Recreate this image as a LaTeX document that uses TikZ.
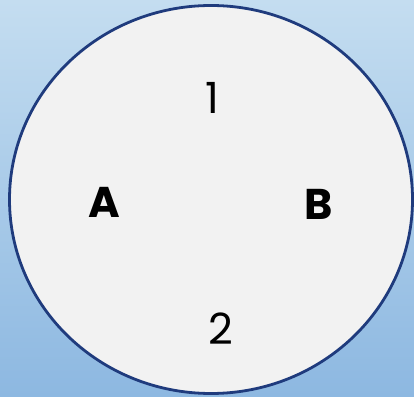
\documentclass[tikz,border=0pt]{standalone}
\usepackage{fontspec}
\setmainfont{Poppins}
\usetikzlibrary{shapes.geometric}
\definecolor{bgtop}{HTML}{C4DDF0}
\definecolor{bgbot}{HTML}{8DB8E1}
\definecolor{circfill}{HTML}{F2F2F2}
\definecolor{circline}{HTML}{1F3B7D}
\tikzset{
  lbl/.style={font=\fontsize{43}{43}\selectfont, text=black, inner sep=0pt},
  lblb/.style={lbl, font=\fontsize{43}{43}\selectfont\bfseries},
}
\begin{document}
\begin{tikzpicture}[x=1pt,y=1pt]
\useasboundingbox (0,0) rectangle (414,396);
\shade[top color=bgtop, bottom color=bgbot] (0,0) rectangle (414,396);
\node[ellipse, minimum width=403pt, minimum height=388pt, draw=circline, line width=2.8pt, fill=circfill, inner sep=0pt] (c) at (211,196.5) {};
\node[lbl] (n1) at (212,298) {1};
\node[lblb] (a) at (104,194) {A};
\node[lblb] (b) at (319,192) {B};
\node[lbl] (n2) at (221,67) {2};
\end{tikzpicture}
\end{document}
